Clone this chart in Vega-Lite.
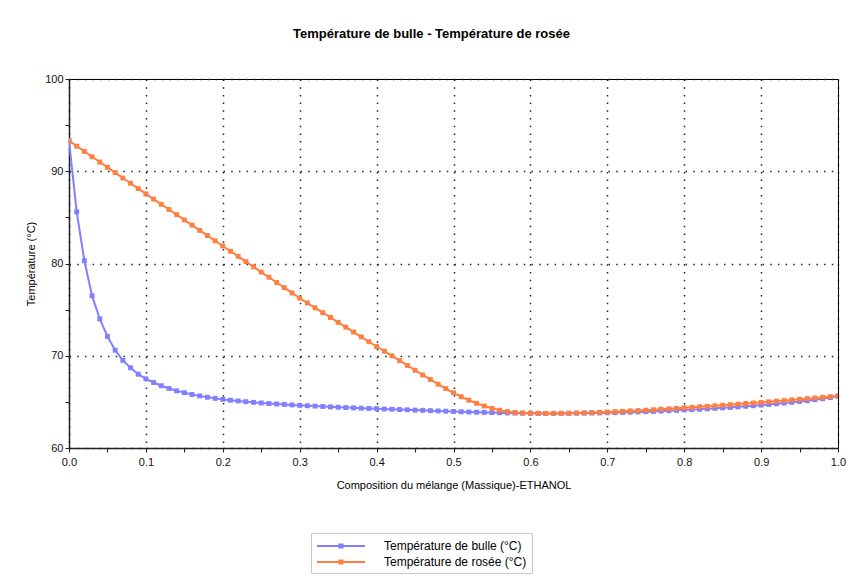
{
  "$schema": "https://vega.github.io/schema/vega-lite/v6.json",
  "autosize": "none",
  "width": 769,
  "height": 369,
  "padding": {"left": 69, "top": 79, "right": 12, "bottom": 131},
  "background": "white",
  "title": {
    "text": "Température de bulle - Température de rosée",
    "font": "Liberation Sans",
    "fontSize": 13,
    "fontWeight": "bold",
    "color": "#000",
    "anchor": "middle",
    "frame": "group",
    "dx": -22,
    "offset": 32
  },
  "config": {
    "view": {"stroke": "#000", "strokeWidth": 1},
    "axis": {
      "labelFont": "Liberation Sans",
      "labelFontSize": 11,
      "labelColor": "#111",
      "titleFont": "Liberation Sans",
      "titleFontSize": 11,
      "titleFontWeight": "normal",
      "titleColor": "#000",
      "domainColor": "#222",
      "domainWidth": 1.5,
      "tickColor": "#222",
      "tickWidth": 1,
      "tickSize": 4,
      "gridColor": "#222",
      "gridWidth": 1.5,
      "gridDash": [1.5, 6.2]
    }
  },
  "data": {
    "values": [
      {"x": 0.00, "bulle": 93.3, "rosee": 93.3},
      {"x": 0.01, "bulle": 85.6, "rosee": 92.72},
      {"x": 0.02, "bulle": 80.3, "rosee": 92.15},
      {"x": 0.03, "bulle": 76.5, "rosee": 91.57},
      {"x": 0.04, "bulle": 74.0, "rosee": 91.0},
      {"x": 0.05, "bulle": 72.1, "rosee": 90.42},
      {"x": 0.06, "bulle": 70.6, "rosee": 89.85},
      {"x": 0.07, "bulle": 69.5, "rosee": 89.27},
      {"x": 0.08, "bulle": 68.7, "rosee": 88.7},
      {"x": 0.09, "bulle": 68.0, "rosee": 88.12},
      {"x": 0.10, "bulle": 67.5, "rosee": 87.55},
      {"x": 0.11, "bulle": 67.1, "rosee": 86.98},
      {"x": 0.12, "bulle": 66.75, "rosee": 86.42},
      {"x": 0.13, "bulle": 66.45, "rosee": 85.85},
      {"x": 0.14, "bulle": 66.2, "rosee": 85.29},
      {"x": 0.15, "bulle": 66.0, "rosee": 84.72},
      {"x": 0.16, "bulle": 65.8, "rosee": 84.16},
      {"x": 0.17, "bulle": 65.65, "rosee": 83.59},
      {"x": 0.18, "bulle": 65.5, "rosee": 83.03},
      {"x": 0.19, "bulle": 65.38, "rosee": 82.46},
      {"x": 0.20, "bulle": 65.27, "rosee": 81.9},
      {"x": 0.21, "bulle": 65.18, "rosee": 81.33},
      {"x": 0.22, "bulle": 65.1, "rosee": 80.77},
      {"x": 0.23, "bulle": 65.02, "rosee": 80.2},
      {"x": 0.24, "bulle": 64.95, "rosee": 79.64},
      {"x": 0.25, "bulle": 64.88, "rosee": 79.07},
      {"x": 0.26, "bulle": 64.82, "rosee": 78.51},
      {"x": 0.27, "bulle": 64.77, "rosee": 77.94},
      {"x": 0.28, "bulle": 64.72, "rosee": 77.38},
      {"x": 0.29, "bulle": 64.67, "rosee": 76.81},
      {"x": 0.30, "bulle": 64.62, "rosee": 76.25},
      {"x": 0.31, "bulle": 64.58, "rosee": 75.72},
      {"x": 0.32, "bulle": 64.54, "rosee": 75.2},
      {"x": 0.33, "bulle": 64.5, "rosee": 74.67},
      {"x": 0.34, "bulle": 64.46, "rosee": 74.15},
      {"x": 0.35, "bulle": 64.42, "rosee": 73.62},
      {"x": 0.36, "bulle": 64.38, "rosee": 73.1},
      {"x": 0.37, "bulle": 64.35, "rosee": 72.57},
      {"x": 0.38, "bulle": 64.32, "rosee": 72.05},
      {"x": 0.39, "bulle": 64.29, "rosee": 71.52},
      {"x": 0.40, "bulle": 64.26, "rosee": 71.0},
      {"x": 0.41, "bulle": 64.23, "rosee": 70.5},
      {"x": 0.42, "bulle": 64.2, "rosee": 69.99},
      {"x": 0.43, "bulle": 64.17, "rosee": 69.47},
      {"x": 0.44, "bulle": 64.14, "rosee": 68.95},
      {"x": 0.45, "bulle": 64.11, "rosee": 68.43},
      {"x": 0.46, "bulle": 64.08, "rosee": 67.92},
      {"x": 0.47, "bulle": 64.05, "rosee": 67.42},
      {"x": 0.48, "bulle": 64.02, "rosee": 66.92},
      {"x": 0.49, "bulle": 63.99, "rosee": 66.44},
      {"x": 0.50, "bulle": 63.96, "rosee": 65.98},
      {"x": 0.51, "bulle": 63.93, "rosee": 65.56},
      {"x": 0.52, "bulle": 63.9, "rosee": 65.18},
      {"x": 0.53, "bulle": 63.88, "rosee": 64.84},
      {"x": 0.54, "bulle": 63.86, "rosee": 64.55},
      {"x": 0.55, "bulle": 63.84, "rosee": 64.3},
      {"x": 0.56, "bulle": 63.82, "rosee": 64.1},
      {"x": 0.57, "bulle": 63.8, "rosee": 63.95},
      {"x": 0.58, "bulle": 63.78, "rosee": 63.85},
      {"x": 0.59, "bulle": 63.77, "rosee": 63.8},
      {"x": 0.60, "bulle": 63.76, "rosee": 63.77},
      {"x": 0.61, "bulle": 63.75, "rosee": 63.76},
      {"x": 0.62, "bulle": 63.75, "rosee": 63.75},
      {"x": 0.63, "bulle": 63.75, "rosee": 63.75},
      {"x": 0.64, "bulle": 63.75, "rosee": 63.76},
      {"x": 0.65, "bulle": 63.76, "rosee": 63.77},
      {"x": 0.66, "bulle": 63.77, "rosee": 63.79},
      {"x": 0.67, "bulle": 63.78, "rosee": 63.81},
      {"x": 0.68, "bulle": 63.79, "rosee": 63.84},
      {"x": 0.69, "bulle": 63.8, "rosee": 63.87},
      {"x": 0.70, "bulle": 63.82, "rosee": 63.9},
      {"x": 0.71, "bulle": 63.84, "rosee": 63.94},
      {"x": 0.72, "bulle": 63.86, "rosee": 63.98},
      {"x": 0.73, "bulle": 63.88, "rosee": 64.02},
      {"x": 0.74, "bulle": 63.91, "rosee": 64.06},
      {"x": 0.75, "bulle": 63.94, "rosee": 64.1},
      {"x": 0.76, "bulle": 63.97, "rosee": 64.15},
      {"x": 0.77, "bulle": 64.0, "rosee": 64.2},
      {"x": 0.78, "bulle": 64.04, "rosee": 64.25},
      {"x": 0.79, "bulle": 64.08, "rosee": 64.3},
      {"x": 0.80, "bulle": 64.12, "rosee": 64.36},
      {"x": 0.81, "bulle": 64.16, "rosee": 64.41},
      {"x": 0.82, "bulle": 64.2, "rosee": 64.47},
      {"x": 0.83, "bulle": 64.25, "rosee": 64.52},
      {"x": 0.84, "bulle": 64.3, "rosee": 64.58},
      {"x": 0.85, "bulle": 64.35, "rosee": 64.64},
      {"x": 0.86, "bulle": 64.4, "rosee": 64.7},
      {"x": 0.87, "bulle": 64.46, "rosee": 64.76},
      {"x": 0.88, "bulle": 64.52, "rosee": 64.82},
      {"x": 0.89, "bulle": 64.58, "rosee": 64.88},
      {"x": 0.90, "bulle": 64.65, "rosee": 64.95},
      {"x": 0.91, "bulle": 64.72, "rosee": 65.01},
      {"x": 0.92, "bulle": 64.79, "rosee": 65.08},
      {"x": 0.93, "bulle": 64.87, "rosee": 65.14},
      {"x": 0.94, "bulle": 64.95, "rosee": 65.21},
      {"x": 0.95, "bulle": 65.04, "rosee": 65.28},
      {"x": 0.96, "bulle": 65.13, "rosee": 65.35},
      {"x": 0.97, "bulle": 65.23, "rosee": 65.42},
      {"x": 0.98, "bulle": 65.34, "rosee": 65.5},
      {"x": 0.99, "bulle": 65.46, "rosee": 65.57},
      {"x": 1.00, "bulle": 65.62, "rosee": 65.65}
    ]
  },
  "transform": [{"fold": ["bulle", "rosee"], "as": ["serie", "T"]}],
  "encoding": {
    "x": {
      "field": "x",
      "type": "quantitative",
      "scale": {"domain": [0, 1], "nice": false, "zero": false},
      "axis": {
        "title": "Composition du mélange (Massique)-ETHANOL",
        "values": [0, 0.05, 0.1, 0.15, 0.2, 0.25, 0.3, 0.35, 0.4, 0.45, 0.5, 0.55, 0.6, 0.65, 0.7, 0.75, 0.8, 0.85, 0.9, 0.95, 1],
        "labelExpr": "round(datum.value*100) % 10 == 0 ? format(datum.value, '.1f') : ''",
        "labelPadding": 4,
        "labelFlush": false,
        "titlePadding": 12,
        "grid": true,
        "gridOpacity": {"condition": {"test": "round(datum.value*100) % 10 == 0", "value": 1}, "value": 0}
      }
    },
    "y": {
      "field": "T",
      "type": "quantitative",
      "scale": {"domain": [60, 100], "nice": false, "zero": false},
      "axis": {
        "title": "Température (°C)",
        "values": [60, 65, 70, 75, 80, 85, 90, 95, 100],
        "labelExpr": "datum.value % 10 == 0 ? datum.label : ''",
        "labelPadding": 2,
        "labelFlush": false,
        "titlePadding": 8,
        "grid": true,
        "gridOpacity": {"condition": {"test": "datum.value % 10 == 0", "value": 1}, "value": 0}
      }
    },
    "color": {
      "field": "serie",
      "type": "nominal",
      "scale": {"domain": ["bulle", "rosee"], "range": ["#7f7fff", "#ff7f40"]},
      "legend": {
        "title": null,
        "orient": "none",
        "legendX": 242,
        "legendY": 454,
        "direction": "vertical",
        "labelExpr": "datum.label == 'bulle' ? 'Température de bulle (°C)' : 'Température de rosée (°C)'",
        "labelFont": "Liberation Sans",
        "labelFontSize": 12,
        "labelColor": "#000",
        "labelOffset": 35,
        "strokeColor": "#c8c8c8",
        "fillColor": "white",
        "padding": 5,
        "rowPadding": 2,
        "symbolType": "M-3,-0.12H3V0.12H-3Z M-0.32,-0.32H0.32V0.32H-0.32Z",
        "symbolSize": 256,
        "symbolOffset": 17,
        "symbolStrokeWidth": 0,
        "encode": {
          "symbols": {"update": {"fill": {"scale": "color", "field": "value"}, "fillOpacity": {"value": 1}, "strokeWidth": {"value": 0}}}
        }
      }
    }
  },
  "layer": [
    {"mark": {"type": "line", "strokeWidth": 2, "clip": true}},
    {"mark": {"type": "point", "shape": "square", "filled": true, "size": 24, "opacity": 1, "clip": true}}
  ]
}
